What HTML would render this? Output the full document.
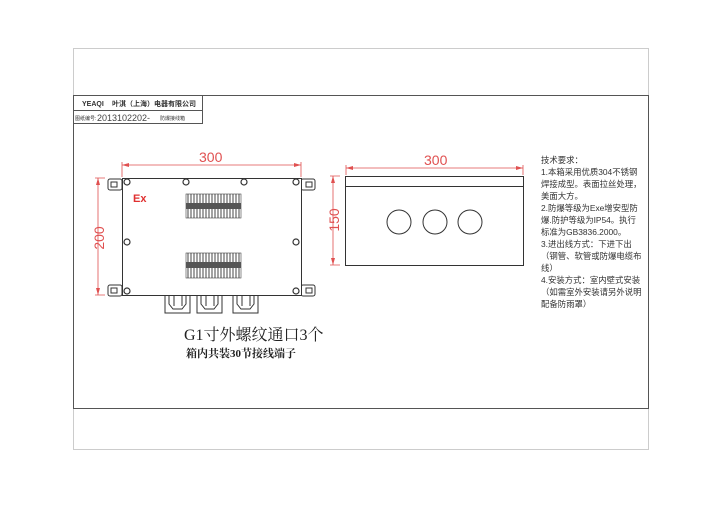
<!DOCTYPE html><html><head><meta charset="utf-8"><style>
body{margin:0;background:#fff;width:720px;height:504px;overflow:hidden}
</style></head><body>
<svg width="720" height="504" xmlns="http://www.w3.org/2000/svg" font-family="Liberation Sans, Noto Sans CJK SC, sans-serif">
<rect x="73.5" y="48.5" width="575" height="401" fill="none" stroke="#ccc"/>
<rect x="73.5" y="95.5" width="575" height="313" fill="none" stroke="#555"/>
<rect x="73.5" y="95.5" width="129" height="28" fill="none" stroke="#555"/>
<line x1="73" y1="110.5" x2="202" y2="110.5" stroke="#555"/>
<text x="82" y="106" font-size="7" font-weight="bold" fill="#333">YEAQI</text>
<text x="112" y="106" font-size="7" font-weight="bold" fill="#333">叶淇（上海）电器有限公司</text>
<text x="75" y="120" font-size="5" fill="#333">图纸编号:</text>
<text x="97" y="121" font-size="9" fill="#444">2013102202-</text>
<text x="160" y="120" font-size="5" fill="#333">防爆接线箱</text>
<g stroke="#333" fill="none" stroke-width="1">
<rect x="108" y="179" width="14" height="11" rx="2"/><rect x="301" y="179" width="14" height="11" rx="2"/>
<rect x="108" y="285" width="14" height="11" rx="2"/><rect x="301" y="285" width="14" height="11" rx="2"/>
<rect x="111" y="182" width="6" height="5"/><rect x="306" y="182" width="6" height="5"/>
<rect x="111" y="288" width="6" height="5"/><rect x="306" y="288" width="6" height="5"/>
<rect x="122.5" y="178.5" width="179" height="117" fill="#fff"/>
<g stroke-width="1.2">
<circle cx="127" cy="182" r="3"/><circle cx="186" cy="182" r="3"/><circle cx="244" cy="182" r="3"/><circle cx="296" cy="182" r="3"/>
<circle cx="127" cy="242" r="3"/><circle cx="296" cy="242" r="3"/>
<circle cx="127" cy="291" r="3"/><circle cx="296" cy="291" r="3"/>
</g>
<path d="M165 296v17h25v-17M169 296v8l4 5h9l4-5v-8M174 296v10M182 296v10"/>
<path d="M197 296v17h25v-17M201 296v8l4 5h9l4-5v-8M206 296v10M214 296v10"/>
<path d="M233 296v17h25v-17M237 296v8l4 5h9l4-5v-8M242 296v10M250 296v10"/>
</g>
<g>
<rect x="186" y="194" width="55" height="24" fill="#fff" stroke="#444" stroke-width=".6"/>
<rect x="186" y="203" width="55" height="6" fill="#555"/>
<rect x="186" y="253" width="55" height="25" fill="#fff" stroke="#444" stroke-width=".6"/>
<rect x="186" y="262" width="55" height="6" fill="#555"/>
</g>
<g stroke="#333" stroke-width="0.9">
<path d="M188 194v9M191 194v9M194 194v9M197 194v9M200 194v9M203 194v9M206 194v9M209 194v9M212 194v9M215 194v9M218 194v9M221 194v9M224 194v9M227 194v9M230 194v9M233 194v9M236 194v9M239 194v9"/>
<path d="M188 209v9M191 209v9M194 209v9M197 209v9M200 209v9M203 209v9M206 209v9M209 209v9M212 209v9M215 209v9M218 209v9M221 209v9M224 209v9M227 209v9M230 209v9M233 209v9M236 209v9M239 209v9"/>
<path d="M188 253v9M191 253v9M194 253v9M197 253v9M200 253v9M203 253v9M206 253v9M209 253v9M212 253v9M215 253v9M218 253v9M221 253v9M224 253v9M227 253v9M230 253v9M233 253v9M236 253v9M239 253v9"/>
<path d="M188 268v10M191 268v10M194 268v10M197 268v10M200 268v10M203 268v10M206 268v10M209 268v10M212 268v10M215 268v10M218 268v10M221 268v10M224 268v10M227 268v10M230 268v10M233 268v10M236 268v10M239 268v10"/>
</g>
<text x="133" y="202" font-size="11" font-weight="bold" fill="#e03030">Ex</text>
<g stroke="#e05050" fill="none" stroke-width="0.8">
<path d="M122 165H301M122 162v15M301 162v15"/>
<path d="M98 178V295M95 178h10M95 295h10"/>
<path d="M346 168H523M346 165v10M523 165v10"/>
<path d="M333 176V265M330 176h10M330 265h10"/>
</g>
<g fill="#e05050">
<path d="M122 165l7-2v4z"/><path d="M301 165l-7-2v4z"/>
<path d="M98 178l-2 7h4z"/><path d="M98 295l-2-7h4z"/>
<path d="M346 168l7-2v4z"/><path d="M523 168l-7-2v4z"/>
<path d="M333 176l-2 7h4z"/><path d="M333 265l-2-7h4z"/>
</g>
<text x="199" y="162" font-size="14" fill="#e05050">300</text>
<text x="424" y="165" font-size="14" fill="#e05050">300</text>
<text transform="translate(104,238) rotate(-90)" text-anchor="middle" font-size="14" fill="#e05050">200</text>
<text transform="translate(339,220) rotate(-90)" text-anchor="middle" font-size="14" fill="#e05050">150</text>
<g stroke="#333" fill="none" stroke-width="1">
<rect x="345.5" y="176.5" width="178" height="89"/>
<line x1="345" y1="186.5" x2="523" y2="186.5"/>
<circle cx="399" cy="222" r="12"/><circle cx="435" cy="222" r="12"/><circle cx="470" cy="222" r="12"/>
</g>
<g font-size="8.4" fill="#333">
<text x="541" y="163">技术要求：</text>
<text x="541" y="175">1.本箱采用优质304不锈钢</text>
<text x="541" y="187">焊接成型。表面拉丝处理，</text>
<text x="541" y="199">美面大方。</text>
<text x="541" y="211">2.防爆等级为Exe增安型防</text>
<text x="541" y="223">爆.防护等级为IP54。执行</text>
<text x="541" y="235">标准为GB3836.2000。</text>
<text x="541" y="247">3.进出线方式：下进下出</text>
<text x="541" y="259">（钢管、软管或防爆电缆布</text>
<text x="541" y="271">线）</text>
<text x="541" y="283">4.安装方式：室内壁式安装</text>
<text x="541" y="295">（如需室外安装请另外说明</text>
<text x="541" y="307">配备防雨罩）</text>
</g>
<text x="184" y="340" font-size="16" fill="#222" font-family="Liberation Serif, Noto Serif CJK SC, serif">G1寸外螺纹通口3个</text>
<text x="186" y="357" font-size="11" fill="#222" font-weight="bold" font-family="Liberation Serif, Noto Serif CJK SC, serif">箱内共装30节接线端子</text>
</svg>
</body></html>
